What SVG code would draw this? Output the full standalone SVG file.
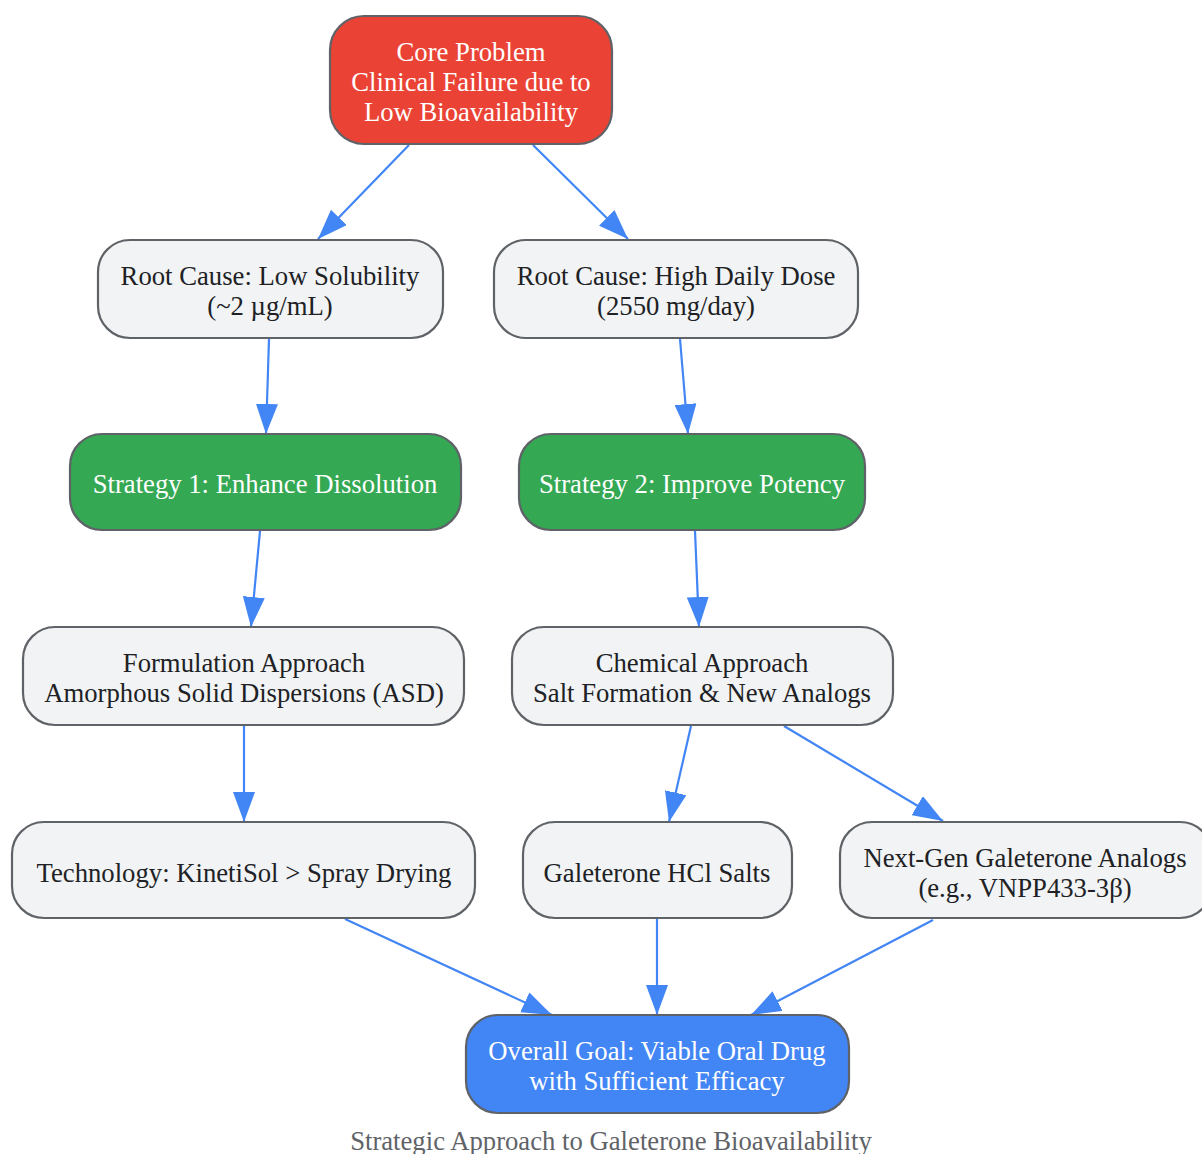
<svg xmlns="http://www.w3.org/2000/svg" width="1202" height="1154" viewBox="0 0 1202 1154">
<style>
.n{stroke:#5f6368;stroke-width:2.2}
.red{fill:#ea4335}.grn{fill:#34a853}.blu{fill:#4285f4}.gry{fill:#f1f3f4}
text{font-family:"Liberation Serif","Times New Roman",serif;font-size:26.7px;text-anchor:middle}
.w{fill:#ffffff}.d{fill:#202124}
.e{stroke:#4285f4;stroke-width:2.2;fill:none;marker-end:url(#ah)}
.cap{fill:#5f6368}
</style>
<defs>
<marker id="ah" viewBox="0 0 30 22" refX="30" refY="11" markerWidth="30" markerHeight="22" orient="auto" markerUnits="userSpaceOnUse">
<path d="M0,0 L30,11 L0,22 z" fill="#4285f4"/>
</marker>
</defs>
<rect width="1202" height="1154" fill="#ffffff"/>
<g id="edges">
<line class="e" x1="409" y1="145" x2="318" y2="239"/>
<line class="e" x1="533" y1="145" x2="628" y2="239"/>
<line class="e" x1="269" y1="339" x2="266" y2="434"/>
<line class="e" x1="680" y1="339" x2="688" y2="434"/>
<line class="e" x1="260" y1="531" x2="251" y2="627"/>
<line class="e" x1="695" y1="531" x2="699" y2="627"/>
<line class="e" x1="244" y1="726" x2="244" y2="822"/>
<line class="e" x1="691" y1="726" x2="669" y2="822"/>
<line class="e" x1="784" y1="726" x2="943" y2="821"/>
<line class="e" x1="345" y1="919" x2="552" y2="1015"/>
<line class="e" x1="657" y1="919" x2="657" y2="1015"/>
<line class="e" x1="933" y1="920" x2="751" y2="1015"/>
</g>
<g id="core">
<rect class="n red" x="330" y="16" width="282" height="128" rx="34"/>
<text class="w" x="471" y="61">Core Problem</text>
<text class="w" x="471" y="91">Clinical Failure due to</text>
<text class="w" x="471" y="121">Low Bioavailability</text>
</g>
<g id="rc1">
<rect class="n gry" x="98" y="240" width="345" height="98" rx="32"/>
<text class="d" x="270" y="285">Root Cause: Low Solubility</text>
<text class="d" x="270" y="315">(~2 µg/mL)</text>
</g>
<g id="rc2">
<rect class="n gry" x="494" y="240" width="364" height="98" rx="32"/>
<text class="d" x="676" y="285">Root Cause: High Daily Dose</text>
<text class="d" x="676" y="315">(2550 mg/day)</text>
</g>
<g id="s1">
<rect class="n grn" x="70" y="434" width="391" height="96" rx="32"/>
<text class="w" x="265" y="493">Strategy 1: Enhance Dissolution</text>
</g>
<g id="s2">
<rect class="n grn" x="519" y="434" width="346" height="96" rx="32"/>
<text class="w" x="692" y="493">Strategy 2: Improve Potency</text>
</g>
<g id="form">
<rect class="n gry" x="23" y="627" width="441" height="98" rx="32"/>
<text class="d" x="244" y="672">Formulation Approach</text>
<text class="d" x="244" y="702">Amorphous Solid Dispersions (ASD)</text>
</g>
<g id="chem">
<rect class="n gry" x="512" y="627" width="381" height="98" rx="32"/>
<text class="d" x="702" y="672">Chemical Approach</text>
<text class="d" x="702" y="702">Salt Formation &amp; New Analogs</text>
</g>
<g id="tech">
<rect class="n gry" x="12" y="822" width="463" height="96" rx="32"/>
<text class="d" x="244" y="882">Technology: KinetiSol &gt; Spray Drying</text>
</g>
<g id="hcl">
<rect class="n gry" x="523" y="822" width="269" height="96" rx="32"/>
<text class="d" x="657" y="882">Galeterone HCl Salts</text>
</g>
<g id="nextgen">
<rect class="n gry" x="840" y="822" width="372" height="96" rx="32"/>
<text class="d" x="1025" y="867">Next-Gen Galeterone Analogs</text>
<text class="d" x="1025" y="897">(e.g., VNPP433-3β)</text>
</g>
<g id="goal">
<rect class="n blu" x="466" y="1015" width="383" height="98" rx="32"/>
<text class="w" x="657" y="1060">Overall Goal: Viable Oral Drug</text>
<text class="w" x="657" y="1090">with Sufficient Efficacy</text>
</g>
<text class="cap" x="611" y="1150">Strategic Approach to Galeterone Bioavailability</text>
</svg>
